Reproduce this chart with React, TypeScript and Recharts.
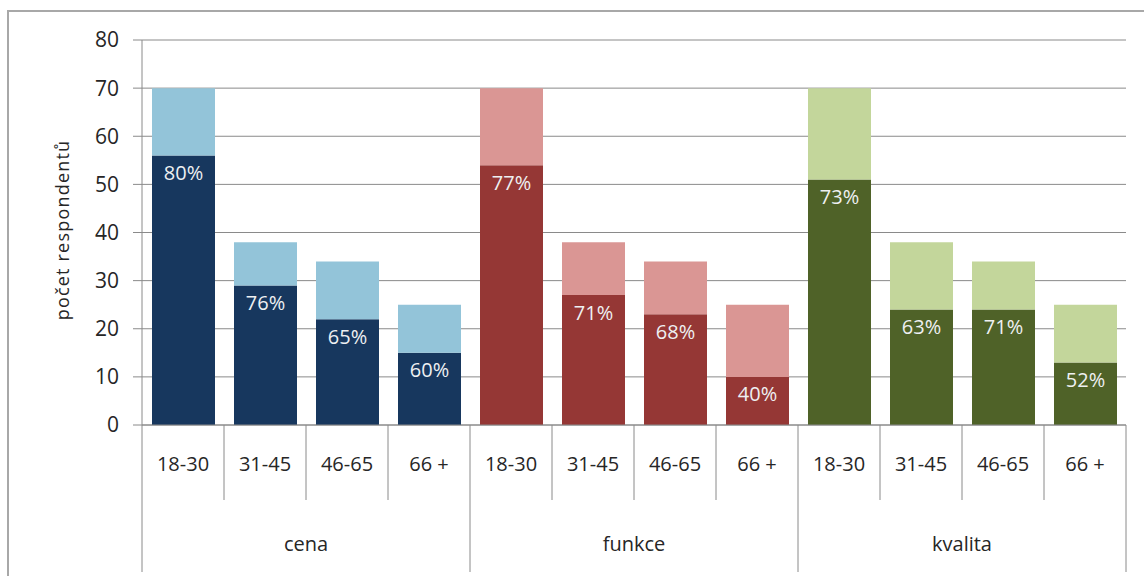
import React from 'react'
import { BarChart, Bar, XAxis, YAxis, CartesianGrid, Cell, LabelList } from 'recharts'

const groups = ['cena', 'funkce', 'kvalita']
const ages = ['18-30', '31-45', '46-65', '66 +']

// celkový počet respondentů v každé věkové skupině
const totals = [70, 38, 34, 25]

// spokojení respondenti (tmavá část sloupce)
const cenaValues = [56, 29, 22, 15]
const funkceValues = [54, 27, 23, 10]
const kvalitaValues = [51, 24, 24, 13]

const cenaPct = ['80%', '76%', '65%', '60%']
const funkcePct = ['77%', '71%', '68%', '40%']
const kvalitaPct = ['73%', '63%', '71%', '52%']

const yTicks = [0, 10, 20, 30, 40, 50, 60, 70, 80]

const darkColors = ['#17375E', '#953735', '#4F6228']
const lightColors = ['#93C4D9', '#DA9694', '#C3D69B']

const W = 1144
const H = 576
const PLOT_LEFT = 142
const PLOT_RIGHT = 1126
const PLOT_TOP = 40
const PLOT_BOTTOM = 425
const BAND = (PLOT_RIGHT - PLOT_LEFT) / 12
const FONT = '"Open Sans", "Noto Sans", sans-serif'
const LINE = '#8a8a8a'
const TXT = '#262626'

const seriesValues = [cenaValues, funkceValues, kvalitaValues]
const seriesPct = [cenaPct, funkcePct, kvalitaPct]

const data = groups.flatMap((g, gi) =>
  ages.map((a, ai) => ({
    id: `${g} ${a}`,
    group: g,
    gi,
    age: a,
    ai,
    dark: seriesValues[gi][ai],
    light: totals[ai] - seriesValues[gi][ai],
    pct: seriesPct[gi][ai],
  }))
)

// eslint-disable-next-line @typescript-eslint/no-explicit-any
const AxisTick = (props: any) => {
  const { x, index } = props
  const row = data[index]
  if (!row) return null
  const left = x - BAND / 2
  return (
    <g>
      <text x={x} y={463} textAnchor='middle' dominantBaseline='central' fontSize={20} fill={TXT} fontFamily={FONT}>
        {row.age}
      </text>
      <line x1={left} x2={left} y1={PLOT_BOTTOM} y2={row.ai === 0 ? 572 : 500} stroke={LINE} />
      {index === data.length - 1 && (
        <line x1={x + BAND / 2} x2={x + BAND / 2} y1={PLOT_BOTTOM} y2={572} stroke={LINE} />
      )}
      {row.ai === 1 && (
        <text x={x + BAND / 2} y={543} textAnchor='middle' dominantBaseline='central' fontSize={20} fill={TXT} fontFamily={FONT}>
          {row.group}
        </text>
      )}
    </g>
  )
}

// eslint-disable-next-line @typescript-eslint/no-explicit-any
const PctLabel = (props: any) => {
  const { x, y, width, index } = props
  return (
    <text x={x + width / 2} y={y + 17} textAnchor='middle' dominantBaseline='central' fontSize={20} fill='#EEF0F2' fontFamily={FONT}>
      {data[index].pct}
    </text>
  )
}

export default function App() {
  return (
    <div style={{ position: 'absolute', left: 0, top: 0, width: W, height: H, overflow: 'hidden', background: '#fff' }}>
      <div style={{ position: 'absolute', left: 7, top: 10, width: 1200, height: 700, border: '2px solid #a8a8a8' }} />
      <div style={{ position: 'absolute', left: 0, top: 0 }}>
        <BarChart
          width={W}
          height={H}
          data={data}
          margin={{ top: PLOT_TOP, right: W - PLOT_RIGHT, bottom: 0, left: 0 }}
          barSize={63}
        >
          <CartesianGrid vertical={false} stroke={LINE} strokeDasharray='' />
          <XAxis
            dataKey='id'
            interval={0}
            height={H - PLOT_BOTTOM}
            tickLine={false}
            axisLine={{ stroke: LINE }}
            tick={<AxisTick />}
          />
          <YAxis
            width={PLOT_LEFT}
            domain={[0, 80]}
            ticks={yTicks}
            interval={0}
            tickSize={9}
            tickMargin={14}
            axisLine={{ stroke: LINE }}
            tickLine={{ stroke: LINE }}
            tick={{ fill: TXT, fontSize: 21, fontFamily: FONT }}
            label={{
              content: () => (
                <text
                  x={62}
                  y={230}
                  transform='rotate(-90 62 230)'
                  textAnchor='middle'
                  dominantBaseline='central'
                  fontSize={18}
                  letterSpacing={1.2}
                  fill={TXT}
                  fontFamily={FONT}
                >
                  počet respondentů
                </text>
              ),
            }}
          />
          <Bar dataKey='dark' stackId='a' isAnimationActive={false}>
            {data.map((d, i) => (
              <Cell key={`d-${i}`} fill={darkColors[d.gi]} />
            ))}
            <LabelList dataKey='pct' content={<PctLabel />} />
          </Bar>
          <Bar dataKey='light' stackId='a' isAnimationActive={false}>
            {data.map((d, i) => (
              <Cell key={`l-${i}`} fill={lightColors[d.gi]} />
            ))}
          </Bar>
        </BarChart>
      </div>
    </div>
  )
}
